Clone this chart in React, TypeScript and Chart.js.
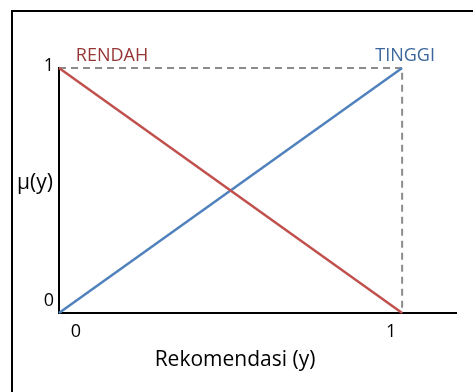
import React, { useEffect, useRef } from "react";
import { Chart, registerables } from "chart.js";

Chart.register(...registerables);

// ---- data ----
const xValues = [0, 1];
const rendahValues = [1, 0];
const tinggiValues = [0, 1];
const guideX = [0, 1, 1];
const guideY = [1, 1, 0];
const xTickValues = [0, 1];
const xTickLabels = ["0", "1"];
const yTickValues = [0, 1];
const yTickLabels = ["0", "1"];
const seriesNames = ["RENDAH", "TINGGI"];
const xTitle = "Rekomendasi (y)";
const yTitle = "μ(y)";
const xAxisMax = 1.157;

const FONT = "'Open Sans', Lato, sans-serif";
const RED = "#C0504D";
const BLUE = "#4F81BD";
const RED_TEXT = "#953735";
const BLUE_TEXT = "#3B679C";

const decorPlugin = {
  id: "decor",
  afterDraw(chart: any) {
    const { ctx, scales } = chart;
    const xs = scales.x;
    const ys = scales.y;
    ctx.save();
    // outer frame
    ctx.strokeStyle = "#000";
    ctx.lineWidth = 2;
    ctx.strokeRect(12, 11, 1000, 1000);

    ctx.font = `18px ${FONT}`;
    ctx.fillStyle = "#000";
    ctx.textBaseline = "alphabetic";

    // y tick labels
    ctx.textAlign = "right";
    yTickValues.forEach((v, i) => {
      const py = ys.getPixelForValue(v) + (v === 0 ? -7 : 3);
      ctx.fillText(yTickLabels[i], 54, py);
    });
    // x tick labels
    ctx.textAlign = "center";
    xTickValues.forEach((v, i) => {
      const px = xs.getPixelForValue(v) + (v === 0 ? 17 : -11);
      ctx.fillText(xTickLabels[i], px, ys.bottom + 24);
    });

    // series labels
    ctx.fillStyle = RED_TEXT;
    ctx.fillText(seriesNames[0], xs.getPixelForValue(0) + 53, ys.getPixelForValue(1) - 7);
    ctx.fillStyle = BLUE_TEXT;
    ctx.fillText(seriesNames[1], xs.getPixelForValue(1) + 3, ys.getPixelForValue(1) - 7);

    // axis titles
    ctx.font = `21px ${FONT}`;
    ctx.fillStyle = "#000";
    ctx.fillText(xTitle, 235, ys.bottom + 53);
    ctx.fillText(yTitle, 35, 189);
    ctx.restore();
  },
};

export default function App() {
  const canvasRef = useRef<HTMLCanvasElement | null>(null);

  useEffect(() => {
    document.body.style.margin = "0";
    const canvas = canvasRef.current;
    if (!canvas) return;
    const chart = new Chart(canvas, {
      type: "scatter",
      data: {
        datasets: [
          {
            label: seriesNames[0],
            data: xValues.map((x, i) => ({ x, y: rendahValues[i] })),
            showLine: true,
            borderColor: RED,
            borderWidth: 2.5,
            pointRadius: 0,
            clip: false,
          } as any,
          {
            label: seriesNames[1],
            data: xValues.map((x, i) => ({ x, y: tinggiValues[i] })),
            showLine: true,
            borderColor: BLUE,
            borderWidth: 2.5,
            pointRadius: 0,
            clip: false,
          } as any,
          {
            label: "guide",
            data: guideX.map((x, i) => ({ x, y: guideY[i] })),
            showLine: true,
            borderColor: "#8C8C8C",
            borderDash: [7, 5],
            borderWidth: 2,
            pointRadius: 0,
            clip: false,
          } as any,
        ],
      },
      options: {
        animation: false,
        responsive: false,
        maintainAspectRatio: false,
        layout: { padding: { left: 59, right: 17, top: 68, bottom: 79 } },
        plugins: { legend: { display: false }, tooltip: { enabled: false } },
        scales: {
          x: {
            type: "linear",
            min: 0,
            max: xAxisMax,
            grid: { display: false, drawTicks: false },
            border: { display: true, color: "#000", width: 2 },
            ticks: { display: false },
            afterFit: (s: any) => {
              s.height = 0;
            },
          },
          y: {
            type: "linear",
            min: 0,
            max: 1,
            grid: { display: false, drawTicks: false },
            border: { display: true, color: "#000", width: 2 },
            ticks: { display: false },
            afterFit: (s: any) => {
              s.width = 0;
            },
          },
        },
      } as any,
      plugins: [decorPlugin],
    });
    return () => chart.destroy();
  }, []);

  return (
    <div style={{ position: "fixed", left: 0, top: 0, width: 473, height: 392, background: "#fff" }}>
      <canvas ref={canvasRef} width={473} height={392} style={{ width: 473, height: 392 }} />
    </div>
  );
}
